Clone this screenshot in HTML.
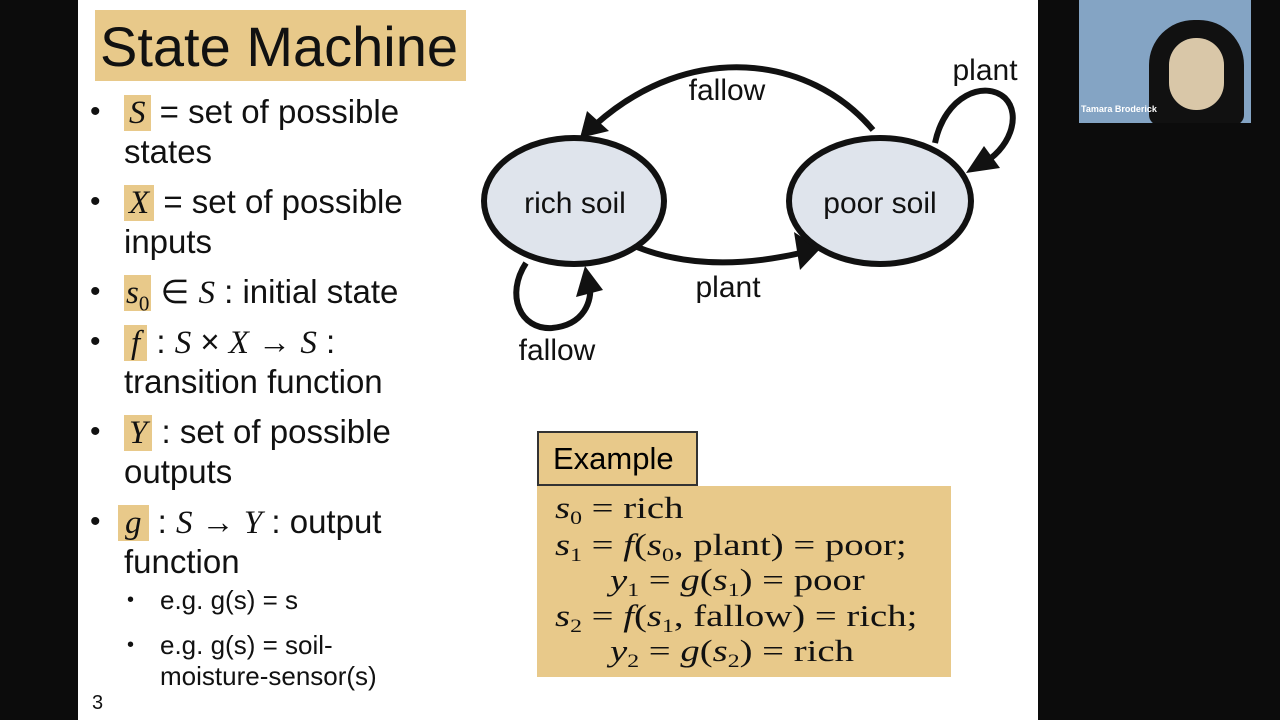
<!DOCTYPE html><html><head><style>
body{margin:0;width:1280px;height:720px;background:#0c0c0c;position:relative;overflow:hidden;font-family:"Liberation Sans",sans-serif}
.slide{position:absolute;left:78px;top:0;width:960px;height:720px;background:#fff}
.t{position:absolute;color:#111;white-space:nowrap}
.hl{background:#e8c98a}
.m{font-family:"Liberation Serif",serif;font-style:italic}
.b{position:absolute;font-size:30px;color:#111}
.L{font-size:33px;line-height:40px}
.ex{position:absolute;white-space:nowrap;font-family:"Liberation Serif",serif;font-size:31px;line-height:36px;color:#111;transform:scaleX(1.25);transform-origin:left center}
.ex sub{font-size:19px;vertical-align:-6px;line-height:0}
</style></head><body>
<div class="slide"></div>
<div class="t hl" style="left:95px;top:10px;width:371px;height:71px;font-size:56px;line-height:73px;padding-left:5px;box-sizing:border-box">State Machine</div>
<div class="b" style="left:90px;top:95px">•</div>
<div class="t L" style="left:124px;top:92px"><span class="hl m" style="padding:0 5px">S</span> = set of possible</div>
<div class="t L" style="left:124px;top:132px">states</div>
<div class="b" style="left:90px;top:185px">•</div>
<div class="t L" style="left:124px;top:182px"><span class="hl m" style="padding:0 5px">X</span> = set of possible</div>
<div class="t L" style="left:124px;top:222px">inputs</div>
<div class="b" style="left:90px;top:275px">•</div>
<div class="t L" style="left:124px;top:272px"><span class="hl m" style="padding:0 2px">s<sub style="font-style:normal;font-size:21px">0</sub></span> ∈ <span class="m">S</span> : initial state</div>
<div class="b" style="left:90px;top:325px">•</div>
<div class="t L" style="left:124px;top:322px"><span class="hl m" style="padding:0 7px">f</span> : <span class="m">S</span> × <span class="m">X</span> → <span class="m">S</span> :</div>
<div class="t L" style="left:124px;top:362px">transition function</div>
<div class="b" style="left:90px;top:415px">•</div>
<div class="t L" style="left:124px;top:412px"><span class="hl m" style="padding:0 5px">Y</span> : set of possible</div>
<div class="t L" style="left:124px;top:452px">outputs</div>
<div class="b" style="left:90px;top:505px">•</div>
<div class="t L" style="left:118px;top:502px"><span class="hl m" style="padding:0 7px">g</span> : <span class="m">S</span> → <span class="m">Y</span> : output</div>
<div class="t L" style="left:124px;top:542px">function</div>
<div class="t" style="left:127px;top:585px;font-size:20px;line-height:30px">•</div>
<div class="t" style="left:160px;top:585px;font-size:26px;line-height:30px">e.g. g(s) = s</div>
<div class="t" style="left:127px;top:630px;font-size:20px;line-height:30px">•</div>
<div class="t" style="left:160px;top:630px;font-size:26px;line-height:30px">e.g. g(s) = soil-</div>
<div class="t" style="left:160px;top:661px;font-size:26px;line-height:30px">moisture-sensor(s)</div>
<div class="t" style="left:92px;top:692px;font-size:20px">3</div>
<svg style="position:absolute;left:0;top:0" width="1280" height="720">
<g stroke="#111" stroke-width="6" fill="none">
<path d="M873,130 C810,55 690,40 595,125"/>
<path d="M637,247 C690,268 750,265 805,252"/>
<path d="M935,143 C945,95 985,80 1005,98 C1022,115 1010,150 980,165"/>
<path d="M526,263 C505,295 520,330 552,328 C585,325 592,300 590,285"/>
</g>
<g fill="#111">
<polygon points="580,138 587,111 609,131"/>
<polygon points="820,249 794,232 800,270"/>
<polygon points="966,173 984,146 1000,168"/>
<polygon points="585,266 576,297 603,290"/>
</g>
<ellipse cx="574" cy="201" rx="90" ry="63" fill="#dfe4ec" stroke="#111" stroke-width="6"/>
<ellipse cx="880" cy="201" rx="91" ry="63" fill="#dfe4ec" stroke="#111" stroke-width="6"/>
<g font-family="Liberation Sans" font-size="30" fill="#111" text-anchor="middle">
<text x="575" y="213">rich soil</text><text x="880" y="213">poor soil</text>
<text x="727" y="100">fallow</text><text x="728" y="297">plant</text>
<text x="985" y="80">plant</text><text x="557" y="360">fallow</text>
</g>
</svg>
<div style="position:absolute;left:537px;top:486px;width:414px;height:191px;background:#e8c98a"></div>
<div style="position:absolute;left:537px;top:431px;width:161px;height:55px;background:#e8c98a;border:2px solid #333;box-sizing:border-box;font-size:31px;line-height:51px;padding-left:14px">Example</div>
<div class="ex" style="left:555px;top:490px"><i>s</i><sub>0</sub> = rich</div>
<div class="ex" style="left:555px;top:527px"><i>s</i><sub>1</sub> = <i>f</i>(<i>s</i><sub>0</sub>, plant) = poor;</div>
<div class="ex" style="left:610px;top:562px"><i>y</i><sub>1</sub> = <i>g</i>(<i>s</i><sub>1</sub>) = poor</div>
<div class="ex" style="left:555px;top:598px"><i>s</i><sub>2</sub> = <i>f</i>(<i>s</i><sub>1</sub>, fallow) = rich;</div>
<div class="ex" style="left:610px;top:633px"><i>y</i><sub>2</sub> = <i>g</i>(<i>s</i><sub>2</sub>) = rich</div>
<div style="position:absolute;left:1079px;top:0;width:172px;height:123px;background:#84a4c4;overflow:hidden">
<div style="position:absolute;left:70px;top:20px;width:95px;height:105px;border-radius:45px 45px 10px 10px;background:#111"></div>
<div style="position:absolute;left:90px;top:38px;width:55px;height:72px;border-radius:27px;background:#d9c7a8"></div>
<div style="position:absolute;left:2px;top:104px;color:#fff;font-size:9px;font-weight:bold">Tamara Broderick</div>
</div>
</body></html>
